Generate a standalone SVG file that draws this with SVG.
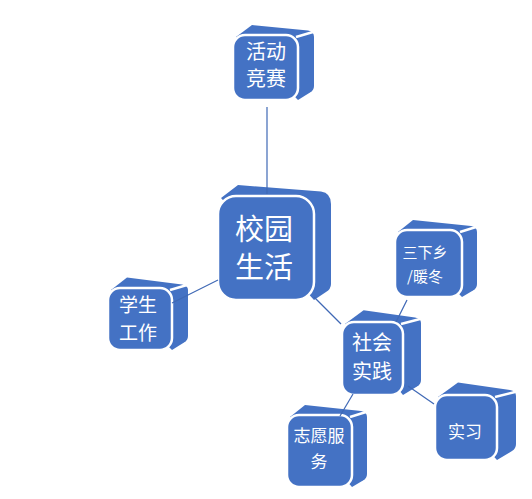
<svg xmlns="http://www.w3.org/2000/svg" width="532" height="499" viewBox="0 0 532 499">
<style>
.back{fill:#4472C4;}
.sep{stroke:#FFFFFF;stroke-width:2.5;fill:none;}
.front{fill:#4472C4;stroke:#FFFFFF;stroke-width:2.5;}
.t{fill:#FFFFFF;font-family:"Noto Sans CJK SC","Microsoft YaHei",sans-serif;text-anchor:middle;}
.conn{stroke:#3F68B5;stroke-width:1.2;fill:none;}
</style>
<rect width="532" height="499" fill="#FFFFFF"/>
<g id="node-huodong">
<path class="back" d="M236,37 L252,25 L308,30.5 Q314,31.5 314,37 L314,86 Q314,90 310,92.5 L298,100 Z"/>
<line class="sep" x1="296" y1="37" x2="313" y2="32"/>
<rect class="front" x="233" y="35" width="65" height="65" rx="12"/>
<text class="t" x="266" y="59" font-size="20">活动</text>
<text class="t" x="266" y="86" font-size="20">竞赛</text>
</g>
<g id="node-center">
<path class="back" d="M221,198 L238,185 L321,191.5 Q331,193 331,204 L331,284 Q331,289 326,292 L314,300 Z"/>
<rect class="front" x="218" y="196" width="96" height="104" rx="18"/>
<text class="t" x="264" y="240" font-size="29">校园</text>
<text class="t" x="264" y="278" font-size="29">生活</text>
</g>
<g id="node-xuesheng">
<path class="back" d="M111,290 L127,277.6 L182,284.5 Q188,285.5 188,290 L188,336 Q188,340 184,342.5 L172,350 Z"/>
<line class="sep" x1="170" y1="290" x2="187" y2="285"/>
<rect class="front" x="108" y="288" width="64" height="62" rx="12"/>
<text class="t" x="138" y="312" font-size="19">学生</text>
<text class="t" x="138" y="340" font-size="19">工作</text>
</g>
<g id="node-shehui">
<path class="back" d="M345,324 L363.6,310.3 L415,317.5 Q421,318.4 421,323 L421,380 Q421,384 417,386.5 L403,395 Z"/>
<line class="sep" x1="401" y1="324" x2="420" y2="319"/>
<rect class="front" x="342" y="322" width="61" height="73" rx="12"/>
<text class="t" x="372" y="350" font-size="20">社会</text>
<text class="t" x="372" y="379" font-size="20">实践</text>
</g>
<g id="node-sanxiaxiang">
<path class="back" d="M398,232 L413,220 L471,226 Q477,227 477,232 L477,284 Q477,288 473,290.5 L462,297 Z"/>
<line class="sep" x1="460" y1="232" x2="476" y2="227"/>
<rect class="front" x="395" y="230" width="67" height="67" rx="12"/>
<text class="t" x="425" y="258" font-size="15">三下乡</text>
<text class="t" x="425" y="282" font-size="15">/暖冬</text>
</g>
<g id="node-zhiyuan">
<path class="back" d="M290,417 L305,405 L361,411 Q367,412 367,417 L367,474 Q367,478 363,480.5 L352,487 Z"/>
<line class="sep" x1="350" y1="417" x2="366" y2="412"/>
<rect class="front" x="287" y="415" width="65" height="72" rx="12"/>
<text class="t" x="319" y="442" font-size="17">志愿服</text>
<text class="t" x="319" y="468" font-size="17">务</text>
</g>
<g id="node-shixi">
<path class="back" d="M438,397 L458,382.6 L510,390 Q516,391.2 516,396 L516,444 Q516,448.6 512,451 L497,460 Z"/>
<line class="sep" x1="495" y1="397" x2="515" y2="392"/>
<rect class="front" x="435" y="395" width="62" height="65" rx="12"/>
<text class="t" x="465" y="438" font-size="17">实习</text>
</g>
<g id="connectors">
<line class="conn" x1="267" y1="107" x2="267" y2="194"/>
<line class="conn" x1="172" y1="303" x2="218" y2="280"/>
<line class="conn" x1="314" y1="297" x2="341" y2="324"/>
<line class="conn" x1="407" y1="300" x2="396" y2="322"/>
<line class="conn" x1="353" y1="394" x2="340" y2="416"/>
<line class="conn" x1="408" y1="386" x2="434" y2="404"/>
</g>
</svg>
